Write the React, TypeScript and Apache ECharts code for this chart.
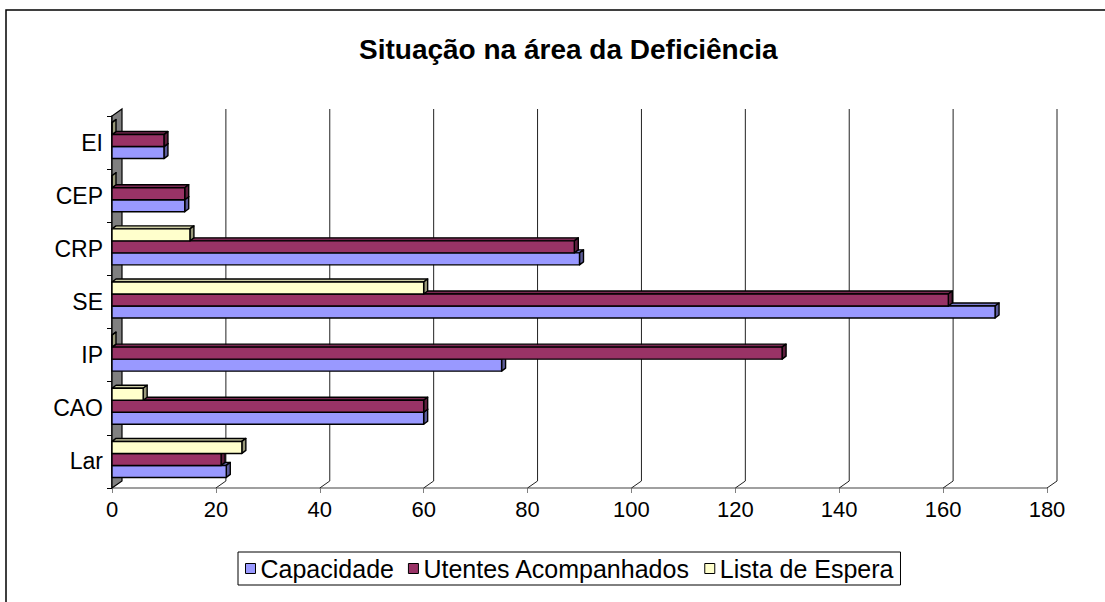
import React, { useEffect, useRef } from "react";
import * as echarts from "echarts";

const categories = ["Lar", "CAO", "IP", "SE", "CRP", "CEP", "EI"];
const capacidade = [22, 60, 75, 170, 90, 14, 10];
const utentes = [21, 60, 129, 161, 89, 14, 10];
const listaEspera = [25, 6, 0, 60, 15, 0, 0];
const seriesNames = ["Capacidade", "Utentes Acompanhados", "Lista de Espera"];
const xTicks = [0, 20, 40, 60, 80, 100, 120, 140, 160, 180];

const FRONT = ["#9999FF", "#993366", "#FFFFCC"];
const TOPC = ["#7A7ACC", "#7A2952", "#CCCCA3"];
const SIDE = ["#5C5C99", "#5C1F3D", "#99997A"];

const DX = 10, DY = 7; // wall depth
const BDX = 4, BDY = 3; // bar depth
const BAR_H = 12;
const SHIFT = -2;
const FONT = "'Liberation Sans', Arial, sans-serif";

function barSeries(s: number, values: number[]) {
  return {
    type: "custom",
    name: seriesNames[s],
    z: 10 + s,
    data: values.map((v, i) => [v, i]),
    encode: { x: 0, y: 1 },
    itemStyle: { color: FRONT[s] },
    renderItem: (params: any, api: any) => {
      const v = api.value(0);
      const ci = api.value(1);
      const p0 = api.coord([0, ci]);
      const p1 = api.coord([v, ci]);
      const cy = p0[1] + SHIFT + (1 - s) * BAR_H;
      const top = cy - BAR_H / 2;
      const bot = cy + BAR_H / 2;
      const x0 = p0[0];
      const x1 = p1[0];
      const stroke = { stroke: "#000", lineWidth: 1.4, lineJoin: "round" };
      return {
        type: "group",
        children: [
          {
            type: "polygon",
            shape: { points: [[x0, top], [x1, top], [x1 + BDX, top - BDY], [x0 + BDX, top - BDY]] },
            style: { fill: TOPC[s], ...stroke },
          },
          {
            type: "polygon",
            shape: { points: [[x1, top], [x1 + BDX, top - BDY], [x1 + BDX, bot - BDY], [x1, bot]] },
            style: { fill: SIDE[s], ...stroke },
          },
          {
            type: "rect",
            shape: { x: x0, y: top, width: x1 - x0, height: BAR_H },
            style: { fill: FRONT[s], ...stroke },
          },
        ],
      };
    },
  };
}

export default function App() {
  const ref = useRef<HTMLDivElement>(null);
  useEffect(() => {
    if (!ref.current) return;
    const chart = echarts.init(ref.current, undefined, { renderer: "svg" });
    chart.setOption({
      animation: false,
      backgroundColor: "#fff",
      title: {
        text: "Situação na área da Deficiência",
        left: 354,
        top: 30,
        textStyle: { fontFamily: FONT, fontSize: 28, fontWeight: "bold", color: "#000" },
      },
      graphic: [
        {
          type: "polyline",
          shape: { points: [[6, 602], [6, 10], [1105, 10]] },
          style: { stroke: "#000", lineWidth: 1.5, fill: "none" },
          silent: true,
        },
      ],
      legend: {
        left: 238,
        top: 552,
        padding: [4, 7, 4, 7],
        itemGap: 14,
        itemWidth: 10,
        itemHeight: 10,
        icon: "rect",
        borderColor: "#000",
        borderWidth: 1,
        textStyle: { fontFamily: FONT, fontSize: 25, color: "#000" },
        data: seriesNames.map((n, i) => ({
          name: n,
          itemStyle: { color: FRONT[i], borderColor: "#000", borderWidth: 1 },
        })),
      },
      grid: { left: 112, right: 58, top: 116, bottom: 114, containLabel: false },
      xAxis: {
        type: "value",
        min: 0,
        max: 180,
        interval: 20,
        axisLine: { show: true, lineStyle: { color: "#808080", width: 1.5 } },
        axisTick: { show: true, length: 5, lineStyle: { color: "#808080" } },
        splitLine: { show: false },
        axisLabel: { fontFamily: FONT, fontSize: 22, color: "#000", margin: 10 },
      },
      yAxis: {
        type: "category",
        data: categories,
        axisLine: { show: true, lineStyle: { color: "#000", width: 1.5 } },
        axisTick: { show: true, length: 5, lineStyle: { color: "#000" } },
        axisLabel: { fontFamily: FONT, fontSize: 23, color: "#000", margin: 9 },
      },
      series: [
        {
          type: "custom",
          name: "frame",
          z: 1,
          silent: true,
          data: xTicks.map((t) => [t, 0]),
          encode: { x: 0, y: 1 },
          renderItem: (params: any, api: any) => {
            const cs = params.coordSys;
            const x = api.coord([api.value(0), 0])[0];
            const bottom = cs.y + cs.height;
            const top = cs.y;
            const children: any[] = [];
            if (params.dataIndex === 0) {
              children.push({
                type: "polygon",
                shape: {
                  points: [[x, bottom], [x + DX, bottom - DY], [x + DX, top - DY], [x, top]],
                },
                style: { fill: "#808080", stroke: "#000", lineWidth: 1.2 },
              });
            } else {
              children.push({
                type: "polyline",
                shape: { points: [[x, bottom], [x + DX, bottom - DY], [x + DX, top - DY]] },
                style: { stroke: "#222", lineWidth: 1, fill: "none" },
              });
            }
            return { type: "group", children };
          },
        },
        barSeries(0, capacidade),
        barSeries(1, utentes),
        barSeries(2, listaEspera),
      ],
    });
    return () => chart.dispose();
  }, []);
  return (
    <div
      ref={ref}
      style={{ position: "fixed", left: 0, top: 0, width: 1105, height: 602 }}
    />
  );
}
